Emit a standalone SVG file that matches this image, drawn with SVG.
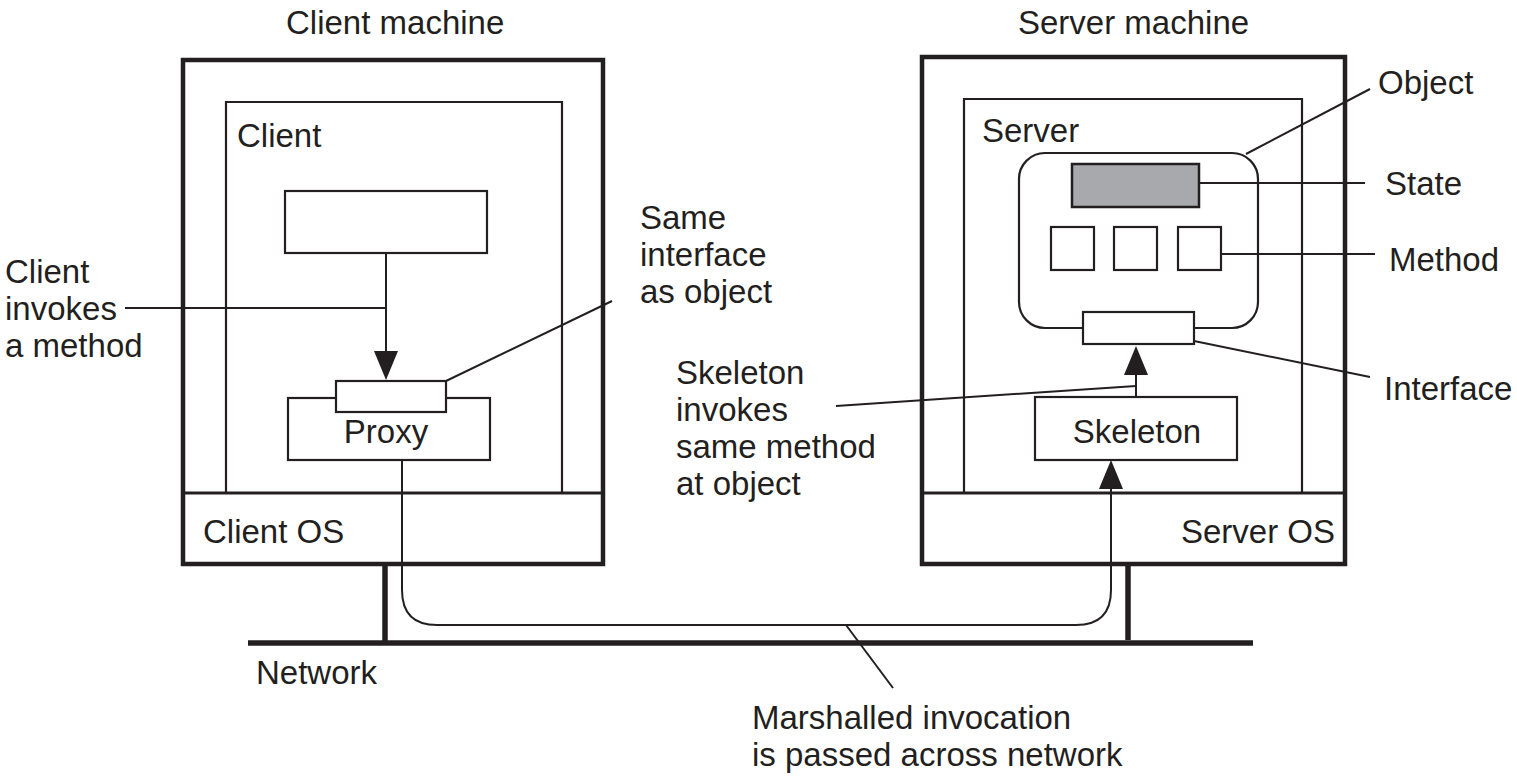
<svg xmlns="http://www.w3.org/2000/svg" width="1517" height="779" viewBox="0 0 1517 779">
<style>
text{font-family:"Liberation Sans",Arial,sans-serif;font-size:33px;fill:#231f20}
.outer{fill:none;stroke:#231f20;stroke-width:4.5}
.inner{fill:none;stroke:#231f20;stroke-width:2.2}
.os{stroke:#231f20;stroke-width:3}
.box{fill:#fff;stroke:#231f20;stroke-width:2.2}
.ln{fill:none;stroke:#231f20;stroke-width:2}
.net{stroke:#231f20;stroke-width:5.5;fill:none}
.ah{fill:#231f20}
</style>
<rect width="1517" height="779" fill="#fff"/>

<g id="network">
<line class="net" x1="385" y1="564" x2="385" y2="642"/>
<line class="net" x1="1128" y1="564" x2="1128" y2="640"/>
<line class="net" x1="248" y1="643" x2="1253" y2="643"/>
<text x="256" y="684">Network</text>
</g>

<g id="client-machine">
<text x="286" y="34">Client machine</text>
<rect class="outer" x="183" y="60" width="420" height="504"/>
<line class="os" x1="183" y1="493" x2="603" y2="493"/>
<text x="203" y="543">Client OS</text>
</g>
<g id="client">
<path class="inner" d="M226 493 V102 H562 V493"/>
<text x="237" y="147">Client</text>
<rect class="box" x="285" y="191" width="202" height="62"/>
</g>
<g id="proxy">
<rect class="box" x="288" y="398" width="202" height="62"/>
<rect class="box" x="336" y="381" width="110" height="31"/>
<text x="386" y="443" text-anchor="middle">Proxy</text>
</g>

<g id="server-machine">
<text x="1018" y="34">Server machine</text>
<rect class="outer" x="922" y="57" width="423" height="507"/>
<line class="os" x1="922" y1="493" x2="1345" y2="493"/>
<text x="1335" y="543" text-anchor="end">Server OS</text>
</g>
<g id="server">
<path class="inner" d="M964 493 V99 H1302 V493"/>
<text x="982" y="142">Server</text>
</g>
<g id="object">
<rect class="box" x="1019" y="153" width="239" height="175" rx="26" ry="26"/>
<rect x="1072" y="164" width="127" height="43" fill="#a7a9ac" stroke="#231f20" stroke-width="2.5"/>
<rect class="box" x="1051" y="227" width="43" height="43"/>
<rect class="box" x="1114" y="227" width="43" height="43"/>
<rect class="box" x="1178" y="227" width="43" height="43"/>
<rect class="box" x="1083" y="312" width="111" height="32"/>
</g>
<g id="skeleton">
<rect class="box" x="1035" y="397" width="202" height="63"/>
<text x="1137" y="443" text-anchor="middle">Skeleton</text>
</g>

<g id="connectors">
<line class="ln" x1="386" y1="253" x2="386" y2="352"/>
<path class="ah" d="M386 380 L374 351 L398 351 Z"/>
<line class="ln" x1="1136" y1="397" x2="1136" y2="374"/>
<path class="ah" d="M1136 346 L1124 375 L1148 375 Z"/>
<path class="ln" d="M402 460 V590 Q402 625 437 625 H1076 Q1111 625 1111 590 V487"/>
<path class="ah" d="M1111 460 L1099 489 L1123 489 Z"/>
<line class="ln" x1="125" y1="308" x2="386" y2="308"/>
<line class="ln" x1="446" y1="381" x2="612" y2="301"/>
<line class="ln" x1="836" y1="406" x2="1136" y2="386"/>
<line class="ln" x1="846" y1="625" x2="893" y2="688"/>
<line class="ln" x1="1246" y1="154" x2="1370" y2="89"/>
<line class="ln" x1="1199" y1="183" x2="1365" y2="183"/>
<line class="ln" x1="1221" y1="254" x2="1375" y2="254"/>
<line class="ln" x1="1194" y1="341" x2="1370" y2="377"/>
</g>

<g id="labels">
<text x="5" y="283">Client</text>
<text x="5" y="320">invokes</text>
<text x="5" y="357">a method</text>
<text x="640" y="229">Same</text>
<text x="640" y="266">interface</text>
<text x="640" y="303">as object</text>
<text x="676" y="384">Skeleton</text>
<text x="676" y="421">invokes</text>
<text x="676" y="458">same method</text>
<text x="676" y="495">at object</text>
<text x="752" y="729">Marshalled invocation</text>
<text x="752" y="766">is passed across network</text>
<text x="1378" y="94">Object</text>
<text x="1385" y="195">State</text>
<text x="1389" y="271">Method</text>
<text x="1384" y="400">Interface</text>
</g>
</svg>
